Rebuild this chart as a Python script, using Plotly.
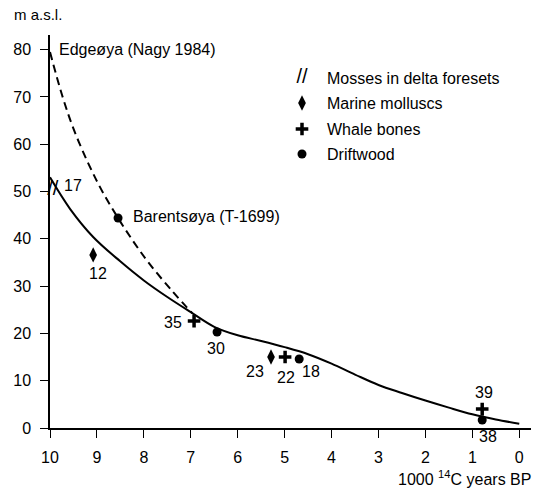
import plotly.graph_objects as go

# ---------------- data ----------------
solid_age = [10.0, 9.57, 9.08, 8.51, 8.0, 7.5, 7.0, 6.5, 6.0, 5.5, 5.0, 4.5, 4.0, 3.5, 3.0, 2.5, 2.0, 1.5, 1.0, 0.5, 0.0]
solid_elev = [53.0, 46.3, 40.4, 35.3, 31.2, 27.7, 24.5, 21.4, 19.6, 18.4, 17.1, 15.6, 13.6, 11.3, 9.1, 7.4, 5.8, 4.3, 2.9, 1.8, 0.9]

dashed_age = [10.0, 9.74, 9.5, 9.2, 8.9, 8.55, 8.2, 7.87, 7.4, 6.97]
dashed_elev = [79.5, 70.3, 63.3, 56.3, 50.3, 44.4, 39.1, 34.6, 29.0, 24.3]

moss_age = [9.94]
moss_elev = [50.3]
moss_labels = ["17"]

mollusc_age = [9.08, 5.29]
mollusc_elev = [36.6, 15.0]
mollusc_labels = ["12", "23"]

whale_age = [6.93, 4.99, 0.79]
whale_elev = [22.6, 15.0, 4.0]
whale_labels = ["35", "22", "39"]

drift_age = [8.55, 6.44, 4.69, 0.79]
drift_elev = [44.4, 20.3, 14.6, 1.7]
drift_labels = ["Barentsøya (T-1699)", "30", "18", "38"]

curve_label = "Edgeøya (Nagy 1984)"
curve_label_at = (dashed_age[0], dashed_elev[0])

x_ticks = [10, 9, 8, 7, 6, 5, 4, 3, 2, 1, 0]
y_ticks = [0, 10, 20, 30, 40, 50, 60, 70, 80]

legend_names = ["Mosses in delta foresets", "Marine molluscs", "Whale bones", "Driftwood"]

# ---------------- styling / layout ----------------
W, H = 546, 490
ML, MR, MT, MB = 50, 15, 35, 62
PW, PH = W - ML - MR, H - MT - MB
FONT = "Liberation Sans, Arial, Helvetica, sans-serif"
FS = 16


def px_x(px):
    return (px - ML) / PW


def px_y(py):
    return (H - MB - py) / PH


fig = go.Figure()

fig.add_trace(go.Scatter(x=solid_age, y=solid_elev, mode="lines",
                         line=dict(color="black", width=2, shape="spline", smoothing=1.0),
                         showlegend=False, hoverinfo="skip"))
fig.add_trace(go.Scatter(x=dashed_age, y=dashed_elev, mode="lines",
                         line=dict(color="black", width=2, dash="8px,5px", shape="spline", smoothing=1.0),
                         showlegend=False, hoverinfo="skip"))

fig.add_trace(go.Scatter(x=moss_age, y=moss_elev, mode="text", text=["//"],
                         textfont=dict(family=FONT, size=20, color="black"), showlegend=False, cliponaxis=False))
fig.add_trace(go.Scatter(x=mollusc_age, y=mollusc_elev, mode="markers",
                         marker=dict(symbol="diamond-tall", size=11, color="black"), showlegend=False, cliponaxis=False))
fig.add_trace(go.Scatter(x=whale_age, y=whale_elev, mode="markers",
                         marker=dict(symbol="cross-thin-open", size=9, color="black", line=dict(color="black", width=3.5)),
                         showlegend=False, cliponaxis=False))
fig.add_trace(go.Scatter(x=drift_age, y=drift_elev, mode="markers",
                         marker=dict(symbol="circle", size=9, color="black"), showlegend=False, cliponaxis=False))

# point label offsets in pixels (dx, dy up), anchors
label_style = {
    "17": (20, 5, "center"),
    "12": (5, -19, "center"),
    "23": (-16, -14, "center"),
    "35": (-21, -1, "center"),
    "22": (1, -20, "center"),
    "39": (2, 17, "center"),
    "30": (-1, -16, "center"),
    "18": (12, -13, "center"),
    "38": (6, -17, "center"),
    "Barentsøya (T-1699)": (13, 2, "left"),
}

annotations = []
for xs, ys, labs in [(moss_age, moss_elev, moss_labels), (mollusc_age, mollusc_elev, mollusc_labels),
                     (whale_age, whale_elev, whale_labels), (drift_age, drift_elev, drift_labels)]:
    for xv, yv, lab in zip(xs, ys, labs):
        dx, dy, anc = label_style[lab]
        annotations.append(dict(x=xv, y=yv, xref="x", yref="y", text=lab, showarrow=False,
                                xanchor=anc, yanchor="middle", xshift=dx, yshift=dy,
                                font=dict(family=FONT, size=FS, color="black")))

annotations.append(dict(x=curve_label_at[0], y=curve_label_at[1], xref="x", yref="y", text=curve_label,
                        showarrow=False, xanchor="left", yanchor="middle", xshift=7, yshift=3,
                        font=dict(family=FONT, size=FS, color="black")))

# axis titles
annotations.append(dict(x=px_x(12), y=px_y(15), xref="paper", yref="paper", text="m a.s.l.", showarrow=False,
                        xanchor="left", yanchor="middle", font=dict(family=FONT, size=FS - 1, color="black")))
annotations.append(dict(x=px_x(533), y=px_y(478), xref="paper", yref="paper",
                        text="1000 <sup>14</sup>C years BP", showarrow=False,
                        xanchor="right", yanchor="middle", font=dict(family=FONT, size=FS, color="black")))

# legend (manual)
leg_rows_py = [78, 103, 129, 154]
leg_sym_px = 302
leg_txt_px = 325
for name, py in zip(legend_names, leg_rows_py):
    annotations.append(dict(x=px_x(leg_txt_px), y=px_y(py), xref="paper", yref="paper", text=name,
                            showarrow=False, xanchor="left", yanchor="middle",
                            font=dict(family=FONT, size=FS, color="black")))

lx = [px_x(leg_sym_px)]
fig.add_trace(go.Scatter(x=lx, y=[px_y(leg_rows_py[0])], xaxis="x2", yaxis="y2", mode="text", text=["//"],
                         textfont=dict(family=FONT, size=20, color="black"), showlegend=False, cliponaxis=False))
fig.add_trace(go.Scatter(x=lx, y=[px_y(leg_rows_py[1])], xaxis="x2", yaxis="y2", mode="markers",
                         marker=dict(symbol="diamond-tall", size=11, color="black"), showlegend=False, cliponaxis=False))
fig.add_trace(go.Scatter(x=lx, y=[px_y(leg_rows_py[2])], xaxis="x2", yaxis="y2", mode="markers",
                         marker=dict(symbol="cross-thin-open", size=9, color="black", line=dict(color="black", width=3.5)),
                         showlegend=False, cliponaxis=False))
fig.add_trace(go.Scatter(x=lx, y=[px_y(leg_rows_py[3])], xaxis="x2", yaxis="y2", mode="markers",
                         marker=dict(symbol="circle", size=9, color="black"), showlegend=False, cliponaxis=False))

fig.update_layout(
    width=W, height=H, autosize=False,
    margin=dict(l=ML, r=MR, t=MT, b=MB, pad=0),
    paper_bgcolor="white", plot_bgcolor="white",
    font=dict(family=FONT, size=FS, color="black"),
    showlegend=False,
    annotations=annotations,
    xaxis=dict(range=[10, -0.25], tickvals=x_ticks, ticktext=[str(v) for v in x_ticks],
               showline=True, linecolor="black", linewidth=1.5, ticks="outside", ticklen=8, tickwidth=1.2,
               tickcolor="black", showgrid=False, zeroline=False, ticklabelstandoff=6,
               tickfont=dict(family=FONT, size=FS, color="black")),
    yaxis=dict(range=[0, 83.1], tickvals=y_ticks, showline=True, linecolor="black", linewidth=1.5,
               ticks="outside", ticklen=8, tickwidth=1.2, tickcolor="black", showgrid=False, zeroline=False,
               ticklabelstandoff=6, tickfont=dict(family=FONT, size=FS, color="black")),
    xaxis2=dict(range=[0, 1], overlaying="x", visible=False, showgrid=False, zeroline=False),
    yaxis2=dict(range=[0, 1], overlaying="y", visible=False, showgrid=False, zeroline=False),
)

fig.write_html("out.html", config={"displayModeBar": False},
               post_script="document.body.style.margin='0px';document.body.style.overflow='hidden';")
